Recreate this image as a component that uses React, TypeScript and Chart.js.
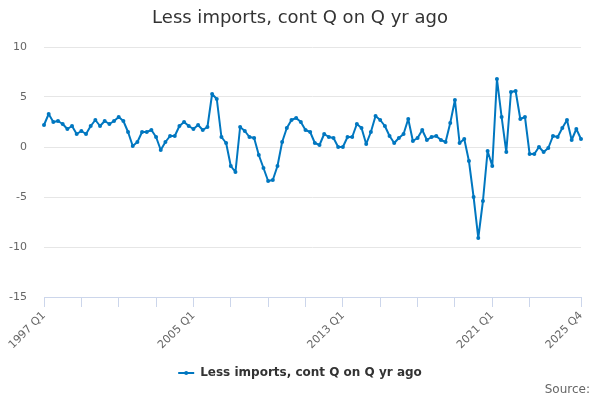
import React, { useEffect, useRef } from "react";
import { Chart, registerables } from "chart.js";

Chart.register(...registerables);

const TITLE = "Less imports, cont Q on Q yr ago";
const SERIES_NAME = "Less imports, cont Q on Q yr ago";
const SOURCE_TEXT = "Source:";

const FIRST_YEAR = 1997;
const LAST_YEAR = 2025;
const QUARTERS = ["Q1", "Q2", "Q3", "Q4"];

const categories: string[] = [];
for (let y = FIRST_YEAR; y <= LAST_YEAR; y++) {
  for (const q of QUARTERS) categories.push(`${y} ${q}`);
}

const values: number[] = [
  2.2, 3.3, 2.5, 2.6, 2.3, 1.8, 2.1, 1.3, 1.6, 1.3, 2.1, 2.7, 2.1, 2.6, 2.3, 2.6,
  3.0, 2.6, 1.5, 0.1, 0.5, 1.5, 1.5, 1.7, 1.0, -0.3, 0.5, 1.1, 1.1, 2.1, 2.5, 2.1,
  1.8, 2.2, 1.7, 2.0, 5.3, 4.8, 1.0, 0.4, -1.9, -2.5, 2.0, 1.6, 1.0, 0.9, -0.8, -2.1,
  -3.4, -3.3, -1.9, 0.5, 1.9, 2.7, 2.9, 2.5, 1.7, 1.5, 0.4, 0.2, 1.3, 1.0, 0.9, 0.0,
  0.0, 1.0, 1.0, 2.3, 1.9, 0.3, 1.5, 3.1, 2.7, 2.1, 1.1, 0.4, 0.9, 1.3, 2.8, 0.6,
  0.9, 1.7, 0.7, 1.0, 1.1, 0.7, 0.5, 2.4, 4.7, 0.4, 0.8, -1.4, -5.0, -9.1, -5.4, -0.4,
  -1.9, 6.8, 3.0, -0.5, 5.5, 5.6, 2.8, 3.0, -0.7, -0.7, 0.0, -0.5, -0.1, 1.1, 1.0, 1.9,
  2.7, 0.7, 1.8, 0.8,
];

const tickLabels: string[] = ["1997 Q1", "2005 Q1", "2013 Q1", "2021 Q1", "2025 Q4"];
const TICK_EVERY = 8;

const Y_MIN = -15;
const Y_MAX = 10;
const Y_STEP = 5;

const LINE_COLOR = "#0077c0";
const FONT = "'DejaVu Sans', sans-serif";

const textPlugin = {
  id: "textPlugin",
  afterDraw(chart: any) {
    const ctx = chart.ctx as CanvasRenderingContext2D;
    ctx.save();
    // title
    ctx.fillStyle = "#333333";
    ctx.font = `18px ${FONT}`;
    ctx.textAlign = "center";
    ctx.textBaseline = "middle";
    ctx.fillText(TITLE, 300, 18);

    // legend
    ctx.font = `bold 12px ${FONT}`;
    const tw = ctx.measureText(SERIES_NAME).width;
    const symW = 16;
    const gap = 6;
    const total = symW + gap + tw;
    const x0 = 300 - total / 2;
    const ly = 373;
    ctx.strokeStyle = LINE_COLOR;
    ctx.lineWidth = 2;
    ctx.beginPath();
    ctx.moveTo(x0, ly);
    ctx.lineTo(x0 + symW, ly);
    ctx.stroke();
    ctx.fillStyle = LINE_COLOR;
    ctx.beginPath();
    ctx.arc(x0 + symW / 2, ly, 2, 0, Math.PI * 2);
    ctx.fill();
    ctx.fillStyle = "#333333";
    ctx.textAlign = "left";
    ctx.fillText(SERIES_NAME, x0 + symW + gap, ly);

    // source
    ctx.font = `12px ${FONT}`;
    ctx.fillStyle = "#666666";
    ctx.textAlign = "right";
    ctx.fillText(SOURCE_TEXT, 590, 390);
    ctx.restore();
  },
};

export default function App() {
  const ref = useRef<HTMLCanvasElement | null>(null);

  useEffect(() => {
    if (!ref.current) return;
    const last = categories.length - 1;
    const chart = new Chart(ref.current, {
      type: "line",
      data: {
        labels: categories,
        datasets: [
          {
            label: SERIES_NAME,
            data: values,
            borderColor: LINE_COLOR,
            backgroundColor: LINE_COLOR,
            borderWidth: 2,
            borderJoinStyle: "round",
            borderCapStyle: "round",
            pointRadius: 2,
            pointHoverRadius: 3,
            pointBackgroundColor: LINE_COLOR,
            pointBorderWidth: 0,
            tension: 0,
          },
        ],
      },
      options: {
        responsive: false,
        animation: false,
        layout: { padding: { top: 47, right: 19, left: 0, bottom: 0 } },
        plugins: {
          legend: { display: false },
          title: { display: false },
          tooltip: { enabled: false },
        },
        scales: {
          x: {
            type: "category",
            afterFit(scale: any) {
              scale.height = 103;
            },
            grid: {
              display: true,
              drawOnChartArea: false,
              drawTicks: true,
              tickLength: 10,
              color: "#ccd6eb",
            },
            border: { display: true, color: "#ccd6eb", width: 1 },
            ticks: {
              autoSkip: false,
              minRotation: 45,
              maxRotation: 45,
              padding: 2,
              color: "#666666",
              font: { family: FONT, size: 11 },
              callback(_v: any, index: number) {
                const lab = categories[index];
                if (tickLabels.includes(lab)) return lab;
                if (index % TICK_EVERY === 0 && index + TICK_EVERY <= last) return "";
                return null;
              },
            },
          },
          y: {
            min: Y_MIN,
            max: Y_MAX,
            afterFit(scale: any) {
              scale.width = 44;
            },
            grid: { color: "#e6e6e6", drawTicks: false },
            border: { display: false },
            ticks: {
              stepSize: Y_STEP,
              padding: 17,
              color: "#666666",
              font: { family: FONT, size: 11 },
            },
          },
        },
      },
      plugins: [textPlugin],
    });
    return () => chart.destroy();
  }, []);

  return (
    <div style={{ position: "absolute", left: 0, top: 0, width: 600, height: 400, background: "#fff" }}>
      <canvas ref={ref} width={600} height={400} style={{ width: 600, height: 400 }} />
    </div>
  );
}
